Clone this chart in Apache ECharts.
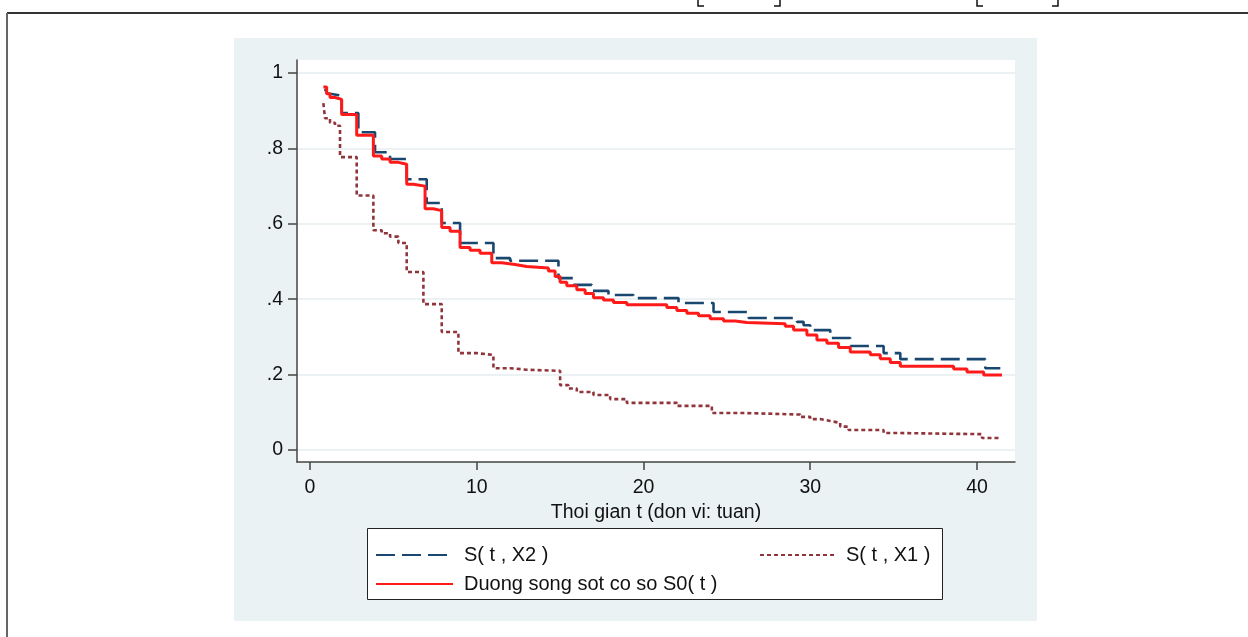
<!DOCTYPE html>
<html>
<head>
<meta charset="utf-8">
<script src="https://cdn.jsdelivr.net/npm/echarts@6/dist/echarts.min.js"></script>
<style>
  html, body { margin: 0; padding: 0; background: #fff; }
  #main { width: 1248px; height: 637px; }
</style>
</head>
<body>
<div id="main"></div>
<script>
// duong song sot co so S0(t)
const tS0 = [0.8, 1.0, 1.2, 1.5, 1.9, 2.8, 3.8, 4.3, 4.8, 5.3, 5.8, 6.2, 6.9, 7.4, 7.9, 8.4, 9.0, 9.6, 10.2, 10.9,
  11.5, 12.3, 13.0, 14.3, 14.7, 15.0, 15.4, 16.0, 16.5, 17.0, 17.6, 18.2, 19.0, 21.4, 22.0, 22.6, 23.3, 24.0, 24.8, 25.5,
  26.2, 28.5, 29.0, 29.8, 30.4, 31.0, 31.7, 32.4, 33.6, 34.2, 34.8, 35.4, 38.6, 39.4, 40.4, 41.5];
const sS0 = [0.963, 0.945, 0.935, 0.930, 0.890, 0.835, 0.780, 0.772, 0.763, 0.758, 0.705, 0.700, 0.640, 0.635, 0.590, 0.580, 0.537, 0.530, 0.522, 0.497,
  0.492, 0.487, 0.483, 0.475, 0.460, 0.445, 0.436, 0.425, 0.415, 0.404, 0.398, 0.391, 0.385, 0.378, 0.370, 0.363, 0.356, 0.348, 0.342, 0.338,
  0.335, 0.328, 0.318, 0.305, 0.292, 0.283, 0.272, 0.260, 0.253, 0.242, 0.232, 0.222, 0.215, 0.207, 0.199, 0.199];

// S(t, X2)
const tX2 = [0.85, 1.0, 1.2, 1.9, 2.9, 3.9, 4.8, 5.8, 7.0, 7.9, 9.0, 11.0, 12.0, 14.9, 15.8, 16.9, 17.9, 19.4, 22.1,
  24.2, 26.3, 29.2, 29.6, 30.0, 31.2, 32.4, 34.4, 35.4, 40.5, 41.4];
const sX2 = [0.955, 0.945, 0.940, 0.894, 0.843, 0.790, 0.772, 0.718, 0.655, 0.602, 0.549, 0.509, 0.502, 0.456, 0.438, 0.422, 0.411, 0.403, 0.390,
  0.366, 0.350, 0.340, 0.331, 0.318, 0.297, 0.276, 0.257, 0.241, 0.217, 0.217];

// S(t, X1)
const tX1 = [0.8, 0.9, 1.2, 1.5, 1.8, 2.8, 3.8, 4.3, 4.8, 5.3, 5.8, 6.8, 7.9, 8.9, 10.0, 11.0, 12.0, 13.0, 15.0, 15.5,
  16.0, 17.0, 18.0, 19.0, 22.0, 24.1, 26.2, 29.4, 30.0, 30.6, 31.2, 31.8, 32.3, 34.4, 35.3, 40.3, 41.4];
const sX1 = [0.920, 0.880, 0.868, 0.860, 0.777, 0.675, 0.583, 0.575, 0.566, 0.549, 0.472, 0.387, 0.313, 0.257, 0.252, 0.217, 0.213, 0.210, 0.172, 0.163,
  0.154, 0.146, 0.135, 0.125, 0.117, 0.098, 0.094, 0.088, 0.082, 0.077, 0.072, 0.062, 0.053, 0.045, 0.042, 0.032, 0.032];

const xTicks = [0, 10, 20, 30, 40];
const yTicks = [0, 0.2, 0.4, 0.6, 0.8, 1];

const nameX2 = 'S( t , X2 )';
const nameX1 = 'S( t , X1 )';
const nameS0 = 'Duong song sot co so S0( t )';

function pairs(t, s) {
  return t.map((v, i) => [v, s[i]]);
}

const font = 'Liberation Sans, Arial, sans-serif';

let myChart = echarts.init(document.getElementById('main'));
let option = {
  backgroundColor: '#ffffff',
  animation: false,
  textStyle: { fontFamily: font },
  graphic: [
    // khung ngoai
    { type: 'line', z: -10, shape: { x1: 7, y1: 13, x2: 1248, y2: 13 }, style: { stroke: '#333', lineWidth: 2 } },
    { type: 'line', z: -10, shape: { x1: 7, y1: 13, x2: 7, y2: 637 }, style: { stroke: '#666', lineWidth: 2 } },
    // dau ngoac phia tren
    { type: 'polyline', z: -10, shape: { points: [[698, 0], [698, 6], [704, 6]] }, style: { stroke: '#111', lineWidth: 1.5, fill: null } },
    { type: 'polyline', z: -10, shape: { points: [[774, 6], [780, 6], [780, 0]] }, style: { stroke: '#111', lineWidth: 1.5, fill: null } },
    { type: 'polyline', z: -10, shape: { points: [[977, 0], [977, 6], [983, 6]] }, style: { stroke: '#111', lineWidth: 1.5, fill: null } },
    { type: 'polyline', z: -10, shape: { points: [[1052, 6], [1058, 6], [1058, 0]] }, style: { stroke: '#111', lineWidth: 1.5, fill: null } },
    // nen do thi
    { type: 'rect', z: -10, shape: { x: 234, y: 38, width: 803, height: 583 }, style: { fill: '#EAF2F3' } },
    // khung chu thich
    { type: 'rect', z: -5, shape: { x: 367.5, y: 528.5, width: 575, height: 71 }, style: { fill: '#fff', stroke: '#222', lineWidth: 1 } }
  ],
  grid: {
    left: 297, right: 233, top: 60, bottom: 175,
    show: true, backgroundColor: '#ffffff', borderWidth: 0
  },
  legend: [
    {
      data: [nameX2, nameS0],
      orient: 'vertical',
      left: 375, top: 545,
      padding: 0,
      itemWidth: 77, itemHeight: 0.4, itemGap: 9,
      textStyle: { fontSize: 20, lineHeight: 20, color: '#111', fontFamily: font, padding: [0, 0, 0, 6] }
    },
    {
      data: [nameX1],
      orient: 'vertical',
      left: 759, top: 545,
      padding: 0,
      itemWidth: 75, itemHeight: 0.4,
      textStyle: { fontSize: 20, lineHeight: 20, color: '#111', fontFamily: font, padding: [0, 0, 0, 6] }
    }
  ],
  xAxis: {
    type: 'value',
    min: -0.78, max: 42.28,
    name: 'Thoi gian t (don vi: tuan)',
    nameLocation: 'middle',
    nameGap: 35,
    nameTextStyle: { fontSize: 19.5, color: '#111', fontFamily: font },
    axisLine: { onZero: false, lineStyle: { color: '#444', width: 1.5 } },
    axisTick: { show: true, length: 8, customValues: xTicks, lineStyle: { color: '#444', width: 1.5 } },
    axisLabel: { customValues: xTicks, margin: 16, fontSize: 19.5, color: '#111', fontFamily: font },
    splitLine: { show: false }
  },
  yAxis: {
    type: 'value',
    min: -0.0318, max: 1.0345,
    axisLine: { show: true, onZero: false, lineStyle: { color: '#444', width: 1.5 } },
    axisTick: { show: true, length: 9, customValues: yTicks, lineStyle: { color: '#444', width: 1.5 } },
    axisLabel: {
      customValues: yTicks, margin: 14, fontSize: 19.5, color: '#111', fontFamily: font,
      formatter: v => (v === 0 || v === 1) ? String(v) : String(+v.toFixed(1)).replace('0.', '.')
    },
    splitLine: { show: true, lineStyle: { color: '#E6EEF0', width: 1.5 } }
  },
  series: [
    {
      name: nameX2, type: 'line', step: 'end', symbol: 'none',
      data: pairs(tX2, sX2),
      lineStyle: { color: '#1A476F', width: 2.6, type: [19, 7] },
      itemStyle: { color: '#1A476F' },
      z: 2
    },
    {
      name: nameX1, type: 'line', step: 'end', symbol: 'none',
      data: pairs(tX1, sX1),
      lineStyle: { color: '#90353B', width: 2.6, type: [4, 3] },
      itemStyle: { color: '#90353B' },
      z: 3
    },
    {
      name: nameS0, type: 'line', step: 'end', symbol: 'none',
      data: pairs(tS0, sS0),
      lineStyle: { color: '#FF1A1A', width: 3 },
      itemStyle: { color: '#FF1A1A' },
      z: 4
    }
  ]
};
myChart.setOption(option);
</script>
</body>
</html>
